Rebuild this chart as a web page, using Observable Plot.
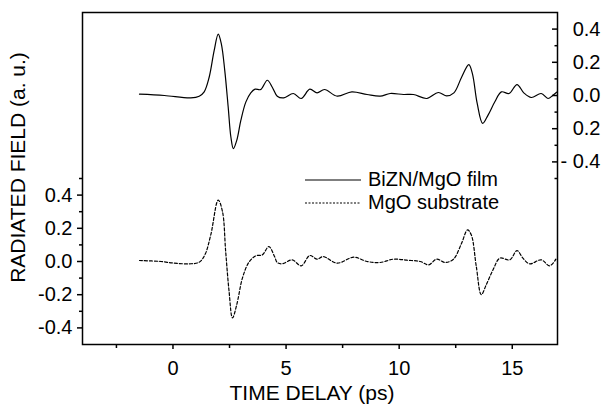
<!DOCTYPE html>
<html><head><meta charset="utf-8">
<script src="https://cdn.jsdelivr.net/npm/d3@7"></script>
<script src="https://cdn.jsdelivr.net/npm/@observablehq/plot@0.6"></script>
<style>
body{margin:0;background:#fff;font-family:"Liberation Sans",Arial,sans-serif;}
#wrap{position:relative;width:603px;height:405px;}
#legend{position:absolute;left:305px;top:168px;font-size:20px;color:#000;line-height:23px;}
#legend div{display:flex;align-items:center;height:23px;}
#legend svg{margin-right:7px;}
</style></head><body><div id="wrap"><div id="legend"></div></div>
<script>
// Time delay (ps) and radiated field (a.u.)
const filmT = [-1.48,-0.38,0.79,1.16,1.38,1.60,1.82,2.00,2.14,2.29,2.44,2.56,2.67,2.82,3.00,3.22,3.44,3.63,3.88,4.17,4.39,4.61,4.90,5.32,5.67,6.05,6.37,6.70,7.26,7.91,8.58,9.16,9.60,10.19,10.63,11.22,11.73,12.10,12.42,12.76,13.08,13.24,13.45,13.69,13.93,14.23,14.52,14.86,15.21,15.51,15.84,16.28,16.58,16.80,16.96];
const filmV = [0.008,0.0,-0.014,-0.004,0.022,0.11,0.27,0.37,0.31,0.15,-0.068,-0.25,-0.32,-0.27,-0.15,-0.04,0.016,0.038,0.036,0.092,0.05,-0.004,-0.014,0.012,-0.018,0.038,0.016,0.036,-0.004,0.022,0.006,-0.004,0.012,0.006,0.006,-0.018,0.018,-0.002,0.016,0.11,0.186,0.13,-0.048,-0.168,-0.118,-0.038,0.022,0.012,0.066,0.016,-0.012,0.012,-0.018,0.002,0.02];
const subT = [-1.48,-0.53,0.06,0.72,1.16,1.41,1.67,2.00,2.19,2.33,2.48,2.63,2.82,3.07,3.36,3.66,3.95,4.24,4.49,4.61,4.83,5.27,5.67,6.05,6.37,6.64,7.26,7.99,8.58,9.16,9.75,10.34,10.93,11.30,11.66,12.03,12.40,12.76,13.02,13.19,13.41,13.63,13.85,14.15,14.45,14.89,15.21,15.47,15.77,16.28,16.65,16.93];
const subV = [0.006,0,-0.01,-0.014,-0.004,0.04,0.16,0.37,0.30,0.06,-0.18,-0.34,-0.26,-0.10,-0.004,0.034,0.04,0.09,0.03,-0.006,-0.014,0.01,-0.026,0.036,0.014,0.03,-0.01,0.026,0,-0.006,0.014,0.008,0,-0.02,0.014,-0.006,0.014,0.11,0.19,0.16,-0.03,-0.20,-0.14,-0.05,0.02,0.01,0.066,0.02,-0.014,0.01,-0.026,0.014];
const seriesNames = ["BiZN/MgO film","MgO substrate"];
const OFFSET = 1; // vertical offset of the film trace

const xTicks = [0,5,10,15];
const xMinor = [-2.5,2.5,7.5,12.5];
const leftTicks = [-0.4,-0.2,0,0.2,0.4];
const leftLabels = ["-0.4","-0.2","0.0","0.2","0.4"];
const leftMinor = [-0.3,-0.1,0.1,0.3,0.5];
const rightTicks = [-0.4,-0.2,0,0.2,0.4];
const rightLabels = ["- 0.4","0.2","0.0","0.2","0.4"];
const rightMinor = [-0.5,-0.3,-0.1,0.1,0.3];
const xTitle = "TIME DELAY (ps)";
const yTitle = "RADIATED FIELD (a. u.)";

const film = filmT.map((t,i)=>({t, v: filmV[i] + OFFSET}));
const sub = subT.map((t,i)=>({t, v: subV[i]}));
const key = d => d.toFixed(2);
const leftFmt = new Map(leftTicks.map((d,i)=>[key(d), leftLabels[i]]));
const rightFmt = new Map(rightTicks.map((d,i)=>[key(d+OFFSET), rightLabels[i]]));

const chart = Plot.plot({
  width: 603, height: 405,
  marginLeft: 82, marginRight: 46, marginTop: 12, marginBottom: 61,
  style: {fontSize: "20px", fontFamily: "'Liberation Sans', Arial, sans-serif", color: "#000", background: "#fff"},
  x: {domain: [-4, 17]},
  y: {domain: [-0.5, 1.5]},
  marks: [
    Plot.axisX({ticks: xTicks, tickSize: 5, tickPadding: 11, tickFormat: d => String(d), label: null, strokeWidth: 1.5}),
    Plot.axisX({ticks: xMinor, tickSize: 4, tickFormat: () => "", label: null, strokeWidth: 1.5}),
    Plot.axisY({ticks: leftTicks, tickSize: 5, tickPadding: 5, tickFormat: d => leftFmt.get(key(d)), label: null, strokeWidth: 1.5}),
    Plot.axisY({ticks: leftMinor, tickSize: 3, tickFormat: () => "", label: null, strokeWidth: 1.5}),
    Plot.axisY({anchor: "right", ticks: rightTicks.map(d=>d+OFFSET), tickSize: -6, tickFormat: () => "", label: null, strokeWidth: 1.5}),
    Plot.axisY({anchor: "right", ticks: rightMinor.map(d=>d+OFFSET), tickSize: -3.5, tickFormat: () => "", label: null, strokeWidth: 1.5}),
    Plot.axisY({anchor: "right", ticks: rightTicks.map(d=>d+OFFSET), tickSize: 0, tickPadding: 43, textAnchor: "end", tickFormat: d => rightFmt.get(key(d)), label: null}),
    Plot.frame({stroke: "#000", strokeWidth: 1.5}),
    Plot.line(film, {x: "t", y: "v", curve: "catmull-rom", stroke: "#000", strokeWidth: 1.2}),
    Plot.line(sub, {x: "t", y: "v", curve: "catmull-rom", stroke: "#000", strokeWidth: 1.2, strokeDasharray: "3,2"}),
    Plot.text([xTitle], {frameAnchor: "bottom", textAnchor: "middle", dx: -8, dy: 49, lineAnchor: "middle", fontSize: 21}),
    Plot.text([yTitle], {frameAnchor: "left", textAnchor: "middle", rotate: -90, dx: -64, dy: -11, lineAnchor: "middle", fontSize: 21})
  ]
});
document.getElementById("wrap").prepend(chart);

const legend = document.getElementById("legend");
seriesNames.forEach((name, i) => {
  const row = document.createElement("div");
  row.innerHTML = `<svg width="56" height="4"><line x1="0" y1="2" x2="56" y2="2" stroke="#000" stroke-width="1.2" ${i ? 'stroke-dasharray="2,1.5"' : ''}/></svg><span>${name}</span>`;
  legend.appendChild(row);
});
</script>
</body></html>
